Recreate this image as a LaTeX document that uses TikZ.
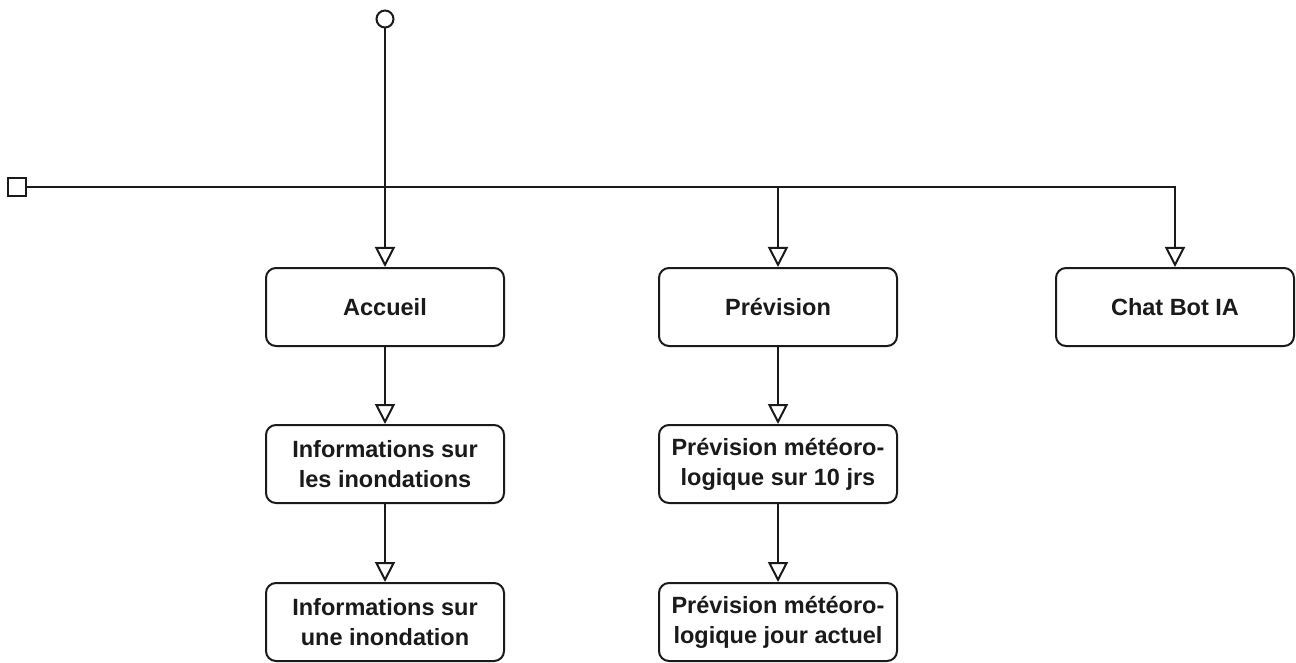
\documentclass[tikz,border=0pt]{standalone}
\usepackage{fontspec}
\setmainfont{Liberation Sans}
\usetikzlibrary{arrows.meta}
\definecolor{ink}{HTML}{1A1A1A}

\begin{document}
\begin{tikzpicture}[
    x=1pt, y=-1pt,
    box/.style={rectangle, draw=ink, fill=white, rounded corners=10pt, line width=2pt,
                minimum width=238pt, minimum height=78pt, align=center,
                font=\fontsize{23.5}{30}\selectfont\bfseries, text=ink},
    flow/.style={-{Triangle[open, length=20pt, width=20pt]}, line width=2pt, ink}
]
  \useasboundingbox (0,0) rectangle (1296,663);

  % Start markers
  \node[circle, draw=ink, line width=2pt, fill=white, minimum size=17pt, inner sep=0pt] (start) at (385,19) {};
  \node[rectangle, draw=ink, line width=2pt, fill=white, minimum size=18pt, inner sep=0pt] (menu) at (17,187) {};

  % Top level pages
  \node[box] (home) at (385,307)  {Accueil};
  \node[box] (prev) at (778,307)  {Prévision};
  \node[box] (chat) at (1175,307) {Chat Bot IA};

  % Sub pages
  \node[box] (infos) at (385,464) {Informations sur\\les inondations};
  \node[box] (info)  at (385,622) {Informations sur\\une inondation};
  \node[box] (meteo) at (778,464) {Prévision météoro-\\logique sur 10 jrs};
  \node[box] (today) at (778,622) {Prévision météoro-\\logique jour actuel};

  \coordinate (fork) at (prev.north |- menu);

  % Menu bar and branches
  \draw[line width=2pt, ink] (menu) -- (fork);
  \draw[flow] (start) -- (home);
  \draw[flow] (fork) -- (prev);
  \draw[flow] (fork) -| (chat);

  \draw[flow] (home) -- (infos);
  \draw[flow] (infos) -- (info);
  \draw[flow] (prev) -- (meteo);
  \draw[flow] (meteo) -- (today);
\end{tikzpicture}
\end{document}
